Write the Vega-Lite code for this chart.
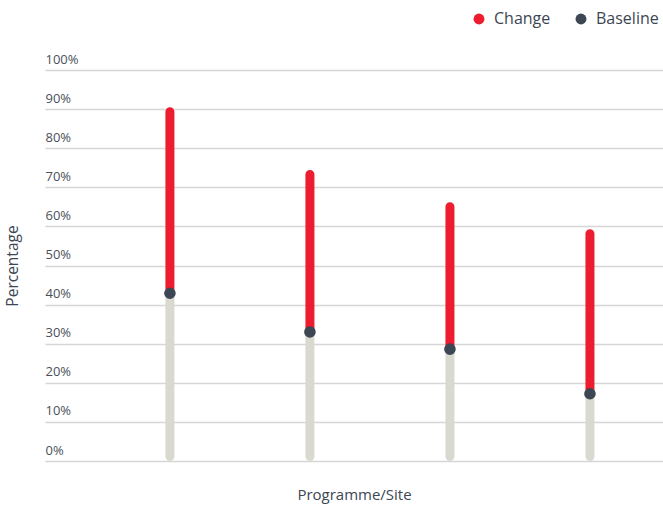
{
  "$schema": "https://vega.github.io/schema/vega-lite/v6.json",
  "width": 618,
  "height": 391,
  "autosize": {"type": "none"},
  "padding": {"left": 45, "top": 70, "right": 0, "bottom": 47},
  "background": "white",
  "config": {
    "view": {"stroke": null},
    "font": "Open Sans",
    "axisY": {"labelOverlap": false, "labelFlush": false, "labelBound": false}
  },
  "data": {
    "values": [
      {"site": "Site 1", "zero": 0, "baseline": 42.9, "change": 90.5},
      {"site": "Site 2", "zero": 0, "baseline": 33.0, "change": 74.4},
      {"site": "Site 3", "zero": 0, "baseline": 28.6, "change": 66.2},
      {"site": "Site 4", "zero": 0, "baseline": 17.2, "change": 59.3}
    ]
  },
  "encoding": {
    "x": {
      "field": "site",
      "type": "nominal",
      "sort": null,
      "scale": {"type": "point", "padding": 0.707, "align": 0.631},
      "axis": {
        "title": "Programme/Site",
        "labels": false,
        "ticks": false,
        "domain": false,
        "grid": false,
        "titleFont": "Open Sans",
        "titleFontSize": 15,
        "titleFontWeight": "normal",
        "titleColor": "#3d4653",
        "titlePadding": 26
      }
    }
  },
  "layer": [
    {
      "mark": {"type": "bar", "size": 9, "cornerRadius": 4.5, "color": "#d9d9d0"},
      "encoding": {
        "y": {
          "field": "baseline",
          "type": "quantitative",
          "scale": {"domain": [0, 100], "nice": false},
          "axis": {
            "title": "Percentage",
            "values": [0, 10, 20, 30, 40, 50, 60, 70, 80, 90, 100],
            "tickCount": 11,
            "labelExpr": "datum.value + '%'",
            "labelAlign": "left",
            "labelBaseline": "alphabetic",
            "labelOffset": -7,
            "labelPadding": 0,
            "labelOverlap": false,
            "labelFont": "Open Sans",
            "labelFontSize": 13,
            "labelColor": "#4a5058",
            "ticks": false,
            "domain": false,
            "grid": true,
            "gridColor": "#d6d6d6",
            "gridWidth": 1.5,
            "titleFont": "Open Sans",
            "titleFontSize": 15.5,
            "titleFontWeight": "normal",
            "titleColor": "#3d4653",
            "titlePadding": 25
          }
        },
        "y2": {"field": "zero"}
      }
    },
    {
      "mark": {"type": "bar", "size": 9, "cornerRadius": 4.5},
      "encoding": {
        "y": {"field": "change", "type": "quantitative"},
        "y2": {"field": "baseline"},
        "color": {"datum": "Change", "type": "nominal"}
      }
    },
    {
      "mark": {"type": "point", "filled": true, "opacity": 1, "size": 135, "shape": "circle"},
      "encoding": {
        "y": {"field": "baseline", "type": "quantitative"},
        "color": {
          "datum": "Baseline",
          "type": "nominal",
          "scale": {"domain": ["Change", "Baseline"], "range": ["#ee1c2f", "#3d4653"]},
          "legend": {
            "title": null,
            "orient": "none",
            "direction": "horizontal",
            "legendX": 426,
            "legendY": -59,
            "symbolType": "circle",
            "symbolSize": 120,
            "symbolOpacity": 1,
            "symbolStrokeWidth": 0,
            "labelFont": "Open Sans",
            "labelFontSize": 16,
            "labelColor": "#3d4653",
            "labelOffset": 7,
            "columnPadding": 22
          }
        }
      }
    }
  ]
}
